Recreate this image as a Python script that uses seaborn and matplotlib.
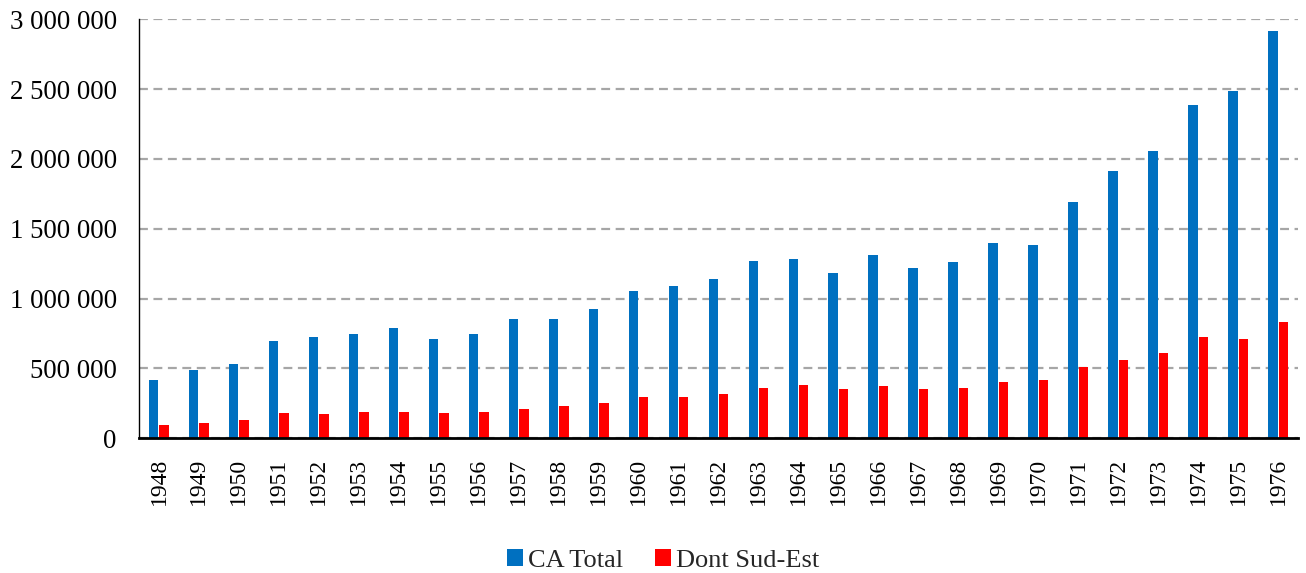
import numpy as np
import pandas as pd
import seaborn as sns
import matplotlib.pyplot as plt
from matplotlib.ticker import FuncFormatter

# Data
years = list(range(1948, 1977))
ca_total = [420000, 489000, 530000, 697000, 723000, 747000, 788000, 709000,
            745000, 854000, 854000, 926000, 1057000, 1093000, 1138000, 1272000,
            1282000, 1184000, 1310000, 1217000, 1260000, 1400000, 1384000,
            1690000, 1916000, 2055000, 2389000, 2487000, 2914000]
sud_est = [93000, 107000, 131000, 179000, 174000, 188000, 188000, 179000,
           186000, 210000, 231000, 255000, 296000, 296000, 317000, 358000,
           382000, 351000, 377000, 353000, 358000, 405000, 415000,
           508000, 561000, 609000, 727000, 709000, 831000]
series_names = ["CA Total", "Dont Sud-Est"]
colors = ["#0070C0", "#FF0000"]

df = pd.DataFrame({
    "year": [str(y) for y in years] * 2,
    "value": ca_total + sud_est,
    "series": [series_names[0]] * len(years) + [series_names[1]] * len(years),
})

sns.set_theme(style="white")
plt.rcParams["font.family"] = ["Liberation Serif", "DejaVu Serif"]

fig = plt.figure(figsize=(13.06, 5.73), dpi=100)
ax = fig.add_axes([0.1064, 0.2351, 0.8875, 0.7312])

sns.barplot(data=df, x="year", y="value", hue="series", palette=colors,
            saturation=1, width=0.52, gap=0.09, linewidth=0,
            ax=ax, legend=True)

ax.set_ylim(0, 3000000)
ax.set_xlim(-0.5, len(years) - 0.5)
ax.set_yticks(np.arange(0, 3000001, 500000))
ax.yaxis.set_major_formatter(FuncFormatter(lambda v, p: f"{v:,.0f}".replace(",", " ")))
ax.set_xlabel("")
ax.set_ylabel("")

ax.grid(axis="y", color="#A6A6A6", linewidth=1.6, linestyle=(0, (4.0, 2.5)))
ax.set_axisbelow(True)

for s in ["top", "right"]:
    ax.spines[s].set_visible(False)
ax.spines["left"].set_color("black")
ax.spines["left"].set_linewidth(1.0)
ax.spines["bottom"].set_color("black")
ax.spines["bottom"].set_linewidth(2.0)

ax.tick_params(axis="y", length=0, pad=16, labelsize=19.3, colors="black")
ax.tick_params(axis="x", length=0, pad=14, labelsize=17, colors="black",
               labelrotation=90)

handles, labels = ax.get_legend_handles_labels()
ax.get_legend().remove()
fig.legend(handles, labels, loc="center", bbox_to_anchor=(0.508, 0.022),
           ncol=2, frameon=False, fontsize=19, handlelength=0.6,
           handleheight=0.6, handletextpad=0.2, columnspacing=1.2,
           borderpad=0)

fig.savefig("out.png", dpi=100)
